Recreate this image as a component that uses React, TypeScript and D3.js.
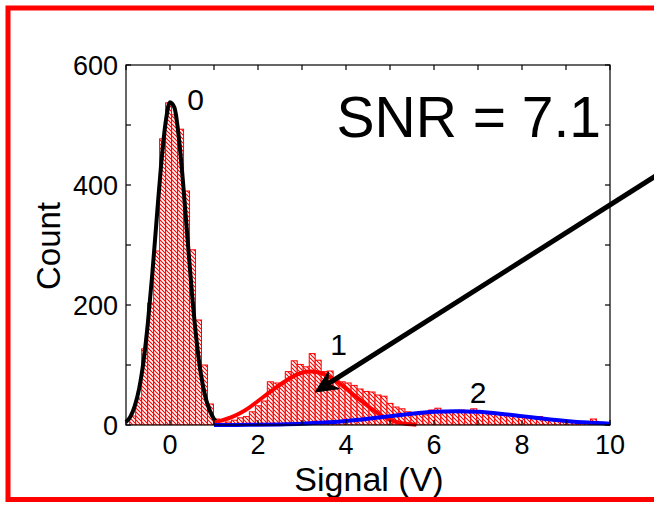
import React from "react";
import * as d3 from "d3";

// ---- data ----
const binStart = -0.916; // V, left edge of first bin
const binWidth = 0.136; // V
const binCounts = [
  15, 45, 127, 203, 290, 477, 537, 517, 493, 390, 292, 175, 100, 35, 10, 3,
  5, 8, 12, 14, 22, 32, 40, 72, 70, 67, 89, 107, 101, 97, 119, 108, 89, 90,
  75, 72, 70, 66, 60, 56, 55, 50, 48, 36, 30, 27, 22, 20, 18, 17, 25, 28, 23,
  22, 23, 25, 21, 27, 21, 20, 21, 18, 19, 17, 15, 15, 13, 12, 14, 10, 9, 8, 7,
  6, 5, 4, 4, 10, 3, 2,
];

const fit0X = [-1.0, -0.9, -0.8, -0.7, -0.6, -0.5, -0.4, -0.3, -0.2, -0.1, 0.0, 0.1, 0.2, 0.3, 0.4, 0.5, 0.6, 0.7, 0.8, 0.9, 1.0, 1.1];
const fit0Y = [5, 14, 32, 61, 107, 172, 254, 346, 435, 504, 538, 529, 480, 401, 309, 219, 143, 86, 48, 25, 10, 3];

const fit1X = [1.0, 1.2, 1.4, 1.6, 1.8, 2.0, 2.2, 2.4, 2.6, 2.8, 3.0, 3.2, 3.4, 3.6, 3.8, 4.0, 4.2, 4.4, 4.6, 4.8, 5.0, 5.2, 5.4, 5.6];
const fit1Y = [4, 8, 13, 20, 29, 40, 51, 62, 72, 81, 87, 89, 87, 81, 72, 61, 49, 37, 26, 16, 9, 4, 1.5, 0.5];

const fit2X = [1.0, 1.5, 2.0, 2.5, 3.0, 3.5, 4.0, 4.5, 5.0, 5.5, 6.0, 6.5, 7.0, 7.5, 8.0, 8.5, 9.0, 9.5, 10.0];
const fit2Y = [0.1, 0.2, 0.4, 1.0, 2.1, 4.0, 6.8, 10.5, 14.8, 18.9, 21.9, 23, 21.9, 18.9, 14.8, 10.5, 6.8, 4.0, 2.1];

const xTicks = [-1, 0, 1, 2, 3, 4, 5, 6, 7, 8, 9, 10];
const xTickLabels = [0, 2, 4, 6, 8, 10];
const yTicks = [0, 100, 200, 300, 400, 500, 600];
const yTickLabels = [0, 200, 400, 600];

const peakLabels = [
  { text: "0", v: 0.58, c: 525 },
  { text: "1", v: 3.83, c: 117 },
  { text: "2", v: 7.0, c: 37 },
];
const arrowFrom = { v: 11.1, c: 418 };
const arrowTo = { v: 3.3, c: 55 };

const FONT = "Liberation Sans, Arial, sans-serif";

export default function App() {
  const x = d3.scaleLinear().domain([-1, 10]).range([126, 610]);
  const y = d3.scaleLinear().domain([0, 600]).range([425, 65]);

  const line = (xs: number[], ys: number[]) =>
    d3
      .line<number>()
      .x((_, i) => x(xs[i]))
      .y((_, i) => y(ys[i]))
      .curve(d3.curveMonotoneX)(xs.map((_, i) => i)) || "";

  const bars = binCounts.map((c, i) => {
    const v0 = binStart + i * binWidth;
    const v1 = v0 + binWidth;
    return { x0: x(v0), x1: x(v1), y: y(c) };
  });

  // arrow geometry
  const tip = [x(arrowTo.v), y(arrowTo.c)];
  const start = [x(arrowFrom.v), y(arrowFrom.c)];
  const dx = tip[0] - start[0];
  const dy = tip[1] - start[1];
  const len = Math.hypot(dx, dy);
  const u = [dx / len, dy / len];
  const n = [-u[1], u[0]];
  const L = 22;
  const W = 10;
  const base = [tip[0] - u[0] * L, tip[1] - u[1] * L];
  const inner = [tip[0] - u[0] * 15, tip[1] - u[1] * 15];
  const b1 = [base[0] + n[0] * W, base[1] + n[1] * W];
  const b2 = [base[0] - n[0] * W, base[1] - n[1] * W];
  const head = `M${tip[0]},${tip[1]}L${b1[0]},${b1[1]}L${inner[0]},${inner[1]}L${b2[0]},${b2[1]}Z`;

  const [xl, xr] = x.range();
  const [yb, yt] = y.range();
  const tickLen = 5;

  return (
    <svg
      width={654}
      height={505}
      style={{ position: "absolute", left: 0, top: 0, background: "#fff" }}
    >
      <defs>
        <pattern id="hatch" patternUnits="userSpaceOnUse" width={4} height={4}>
          <rect width={4} height={4} fill="#fff" />
          <path d="M-1,-1 L5,5 M-1,3 L1,5 M3,-1 L5,1" stroke="#ff0000" strokeWidth={1.1} />
        </pattern>
        <clipPath id="plotclip">
          <rect x={xl} y={yt} width={xr - xl} height={yb - yt} />
        </clipPath>
      </defs>
      <rect x={0} y={0} width={654} height={505} fill="#fff" />

      {/* histogram */}
      <g clipPath="url(#plotclip)">
        {bars.map((b, i) => (
          <rect
            key={i}
            x={b.x0}
            y={b.y}
            width={b.x1 - b.x0}
            height={yb - b.y}
            fill="url(#hatch)"
            stroke="#ff0000"
            strokeWidth={1}
          />
        ))}
      </g>

      {/* fits */}
      <path d={line(fit0X, fit0Y)} fill="none" stroke="#000" strokeWidth={4} />
      <path d={line(fit1X, fit1Y)} fill="none" stroke="#ff0000" strokeWidth={4} />
      <path d={line(fit2X, fit2Y)} fill="none" stroke="#0000ff" strokeWidth={4} />

      {/* axes box */}
      <rect x={xl} y={yt} width={xr - xl} height={yb - yt} fill="none" stroke="#000" strokeWidth={1.2} />
      {xTicks.map((t) => (
        <g key={"xt" + t}>
          <line x1={x(t)} x2={x(t)} y1={yb} y2={yb - tickLen} stroke="#000" strokeWidth={1.2} />
          <line x1={x(t)} x2={x(t)} y1={yt} y2={yt + tickLen} stroke="#000" strokeWidth={1.2} />
        </g>
      ))}
      {yTicks.map((t) => (
        <g key={"yt" + t}>
          <line x1={xl} x2={xl + tickLen} y1={y(t)} y2={y(t)} stroke="#000" strokeWidth={1.2} />
          <line x1={xr} x2={xr - tickLen} y1={y(t)} y2={y(t)} stroke="#000" strokeWidth={1.2} />
        </g>
      ))}
      {xTickLabels.map((t) => (
        <text key={"xl" + t} x={x(t)} y={454} textAnchor="middle" fontFamily={FONT} fontSize={27} fill="#000">
          {t}
        </text>
      ))}
      {yTickLabels.map((t) => (
        <text key={"yl" + t} x={118} y={y(t) + 10} textAnchor="end" fontFamily={FONT} fontSize={27} fill="#000">
          {t}
        </text>
      ))}
      <text x={369} y={491} textAnchor="middle" fontFamily={FONT} fontSize={34} fill="#000">
        Signal (V)
      </text>
      <text
        transform={`translate(60,246) rotate(-90)`}
        textAnchor="middle"
        fontFamily={FONT}
        fontSize={33}
        fill="#000"
      >
        Count
      </text>

      {/* peak labels */}
      {peakLabels.map((p) => (
        <text key={p.text} x={x(p.v)} y={y(p.c)} textAnchor="middle" fontFamily={FONT} fontSize={30} fill="#000">
          {p.text}
        </text>
      ))}

      <text x={601} y={137} textAnchor="end" fontFamily={FONT} fontSize={57} fill="#000">
        SNR = 7.1
      </text>

      {/* arrow */}
      <line x1={start[0]} y1={start[1]} x2={inner[0]} y2={inner[1]} stroke="#000" strokeWidth={5} />
      <path d={head} fill="#000" stroke="#000" strokeWidth={1} strokeLinejoin="miter" />

      {/* red frame */}
      <rect x={8} y={8} width={700} height={491.5} fill="none" stroke="#ff0000" strokeWidth={5} />
    </svg>
  );
}
